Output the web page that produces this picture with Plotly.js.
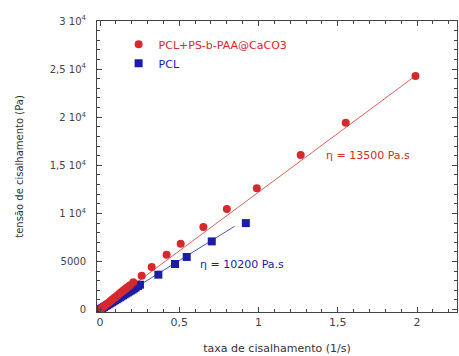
<!DOCTYPE html>
<html><head><meta charset="utf-8">
<script src="https://cdn.plot.ly/plotly-3.0.1.min.js"></script>
<style>body{margin:0;background:#fff}#c{width:459px;height:356px}</style>
</head><body><div id="c"></div>
<script>
// Red series: PCL+PS-b-PAA@CaCO3
const redX = [0.01,0.02,0.03,0.04,0.05,0.06,0.07,0.08,0.09,0.10,0.11,0.12,0.13,0.14,0.15,0.16,0.17,0.18,0.19,0.21,0.263,0.326,0.42,0.509,0.652,0.80,0.989,1.266,1.55,1.99];
const redY = [130,265,400,530,670,800,940,1070,1200,1340,1470,1610,1740,1870,2010,2140,2270,2410,2540,2830,3530,4430,5700,6850,8580,10450,12620,16080,19430,24270];
// Blue series: PCL
const blueX = [0.005,0.015,0.025,0.035,0.045,0.055,0.065,0.075,0.085,0.095,0.105,0.115,0.125,0.135,0.145,0.155,0.165,0.175,0.185,0.195,0.205,0.215,0.225,0.24,0.252,0.368,0.473,0.547,0.705,0.92];
const blueY = [50,155,255,360,460,560,665,765,870,970,1070,1175,1275,1380,1480,1580,1685,1785,1890,1990,2090,2195,2295,2450,2590,3630,4740,5470,7090,8990];
// Fit lines
const redFitX = [0, 1.99];
const redFitY = [0, 24300];
const blueFitX = [0, 0.85];
const blueFitY = [0, 8670];
// Tick labels
const xTickVals = [0, 0.5, 1, 1.5, 2];
const xTickText = ['0', '0,5', '1', '1,5', '2'];
const yTickVals = [0, 5000, 10000, 15000, 20000, 25000, 30000];
const yTickText = ['0', '5000', '1 10<sup>4</sup>', '1,5 10<sup>4</sup>', '2 10<sup>4</sup>', '2,5 10<sup>4</sup>', '3 10<sup>4</sup>'];

const red = '#d42a2e', blue = '#1c1ca6';
const traces = [
  {x: redFitX, y: redFitY, mode: 'lines', line: {color: '#e06060', width: 1}, showlegend: false, hoverinfo: 'skip'},
  {x: blueFitX, y: blueFitY, mode: 'lines', line: {color: '#4a5ab0', width: 1}, showlegend: false, hoverinfo: 'skip'},
  {x: blueX, y: blueY, mode: 'markers', name: '<span style="fill:' + blue + '">PCL</span>', marker: {symbol: 'square', size: 8, color: blue}, legendrank: 2},
  {x: redX, y: redY, mode: 'markers', name: '<span style="fill:' + red + '">PCL+PS-b-PAA@CaCO3</span>', marker: {symbol: 'circle', size: 8, color: red}, legendrank: 1}
];
const fam = 'DejaVu Sans, Verdana, sans-serif';
const layout = {
  width: 459, height: 356,
  margin: {l: 97, r: 2, t: 21, b: 44},
  paper_bgcolor: '#fff', plot_bgcolor: '#fff',
  font: {family: fam, size: 10, color: '#333'},
  showlegend: true,
  legend: {x: 0.06, y: 0.97, xanchor: 'left', yanchor: 'top', bgcolor: 'rgba(0,0,0,0)', font: {family: fam, size: 11}, itemwidth: 30, tracegroupgap: 0, traceorder: 'normal'},
  xaxis: {
    range: [-0.019, 2.252], showgrid: false, zeroline: false,
    showline: true, linecolor: '#444', linewidth: 1, mirror: 'ticks',
    ticks: 'inside', ticklen: 5, tickcolor: '#444',
    tickvals: xTickVals, ticktext: xTickText,
    minor: {dtick: 0.1, ticks: 'inside', ticklen: 3, tickcolor: '#444', showgrid: false},
    tickfont: {family: fam, size: 11, color: '#444'},
    title: {text: 'taxa de cisalhamento (1/s)', font: {family: fam, size: 11, color: '#333'}, standoff: 16}
  },
  yaxis: {
    range: [-250, 30000], showgrid: false, zeroline: false,
    showline: true, linecolor: '#444', linewidth: 1, mirror: 'ticks',
    ticks: 'inside', ticklen: 5, tickcolor: '#444',
    tickvals: yTickVals, ticktext: yTickText,
    minor: {dtick: 1000, ticks: 'inside', ticklen: 3, tickcolor: '#444', showgrid: false},
    tickfont: {family: fam, size: 10, color: '#444'},
    ticklabelstandoff: 8,
    title: {text: 'tensão de cisalhamento (Pa)', font: {family: fam, size: 10, color: '#333'}, standoff: 24}
  },
  annotations: [
    {x: 1.415, y: 16000, xref: 'x', yref: 'y', text: 'η = 13500 Pa.s', showarrow: false, xanchor: 'left', font: {family: fam, size: 11, color: red}},
    {x: 0.615, y: 4700, xref: 'x', yref: 'y', text: 'η = 10200 Pa.s', showarrow: false, xanchor: 'left', font: {family: fam, size: 11, color: blue}}
  ]
};
Plotly.newPlot('c', traces, layout, {displayModeBar: false, staticPlot: true});
</script></body></html>
